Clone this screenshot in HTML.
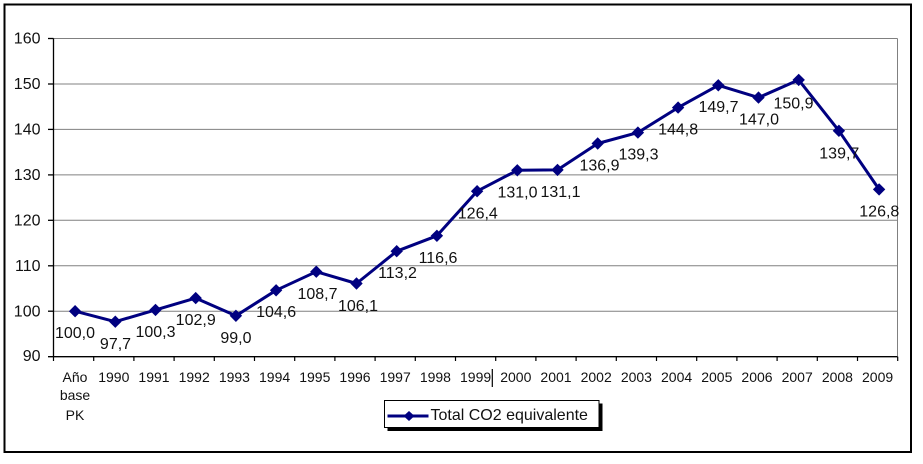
<!DOCTYPE html>
<html>
<head>
<meta charset="utf-8">
<style>
  html,body{margin:0;padding:0;background:#fff;}
  svg{display:block;}
  text{font-family:"Liberation Sans",Arial,sans-serif;fill:#111;}
</style>
</head>
<body>
<svg width="923" height="464" viewBox="0 0 923 464" xmlns="http://www.w3.org/2000/svg">
  <rect x="0" y="0" width="923" height="464" fill="#fff"/>
  <!-- outer border -->
  <rect x="4.5" y="4.5" width="906.5" height="447.5" fill="none" stroke="#000" stroke-width="2"/>

  <!-- gridlines -->
  <g stroke="#808080" stroke-width="1">
    <line x1="53" y1="38.5" x2="897.5" y2="38.5"/>
    <line x1="53" y1="84" x2="897.5" y2="84"/>
    <line x1="53" y1="129.4" x2="897.5" y2="129.4"/>
    <line x1="53" y1="174.9" x2="897.5" y2="174.9"/>
    <line x1="53" y1="220.3" x2="897.5" y2="220.3"/>
    <line x1="53" y1="265.8" x2="897.5" y2="265.8"/>
    <line x1="53" y1="311.2" x2="897.5" y2="311.2"/>
    <line x1="897.5" y1="38.5" x2="897.5" y2="356.7"/>
  </g>

  <!-- axes -->
  <g stroke="#000" stroke-width="1.3">
    <line x1="53.5" y1="38.5" x2="53.5" y2="356.7"/>
    <line x1="48" y1="356.7" x2="897.5" y2="356.7"/>
    <line x1="48" y1="38.5" x2="53.5" y2="38.5"/>
    <line x1="48" y1="84" x2="53.5" y2="84"/>
    <line x1="48" y1="129.4" x2="53.5" y2="129.4"/>
    <line x1="48" y1="174.9" x2="53.5" y2="174.9"/>
    <line x1="48" y1="220.3" x2="53.5" y2="220.3"/>
    <line x1="48" y1="265.8" x2="53.5" y2="265.8"/>
    <line x1="48" y1="311.2" x2="53.5" y2="311.2"/>
  </g>
  <g stroke="#000" stroke-width="1.2">
    <line x1="53.5" y1="356.7" x2="53.5" y2="361"/>
    <line x1="93.7" y1="356.7" x2="93.7" y2="361"/>
    <line x1="133.9" y1="356.7" x2="133.9" y2="361"/>
    <line x1="174.1" y1="356.7" x2="174.1" y2="361"/>
    <line x1="214.3" y1="356.7" x2="214.3" y2="361"/>
    <line x1="254.5" y1="356.7" x2="254.5" y2="361"/>
    <line x1="294.7" y1="356.7" x2="294.7" y2="361"/>
    <line x1="334.9" y1="356.7" x2="334.9" y2="361"/>
    <line x1="375.1" y1="356.7" x2="375.1" y2="361"/>
    <line x1="415.3" y1="356.7" x2="415.3" y2="361"/>
    <line x1="455.5" y1="356.7" x2="455.5" y2="361"/>
    <line x1="495.7" y1="356.7" x2="495.7" y2="361"/>
    <line x1="535.9" y1="356.7" x2="535.9" y2="361"/>
    <line x1="576.1" y1="356.7" x2="576.1" y2="361"/>
    <line x1="616.3" y1="356.7" x2="616.3" y2="361"/>
    <line x1="656.5" y1="356.7" x2="656.5" y2="361"/>
    <line x1="696.7" y1="356.7" x2="696.7" y2="361"/>
    <line x1="736.9" y1="356.7" x2="736.9" y2="361"/>
    <line x1="777.1" y1="356.7" x2="777.1" y2="361"/>
    <line x1="817.3" y1="356.7" x2="817.3" y2="361"/>
    <line x1="857.5" y1="356.7" x2="857.5" y2="361"/>
    <line x1="897.7" y1="356.7" x2="897.7" y2="361"/>
    <!-- cursor-like artifact -->
    <line x1="492.3" y1="369" x2="492.3" y2="387"/>
  </g>

  <!-- y labels -->
  <g font-size="16" text-anchor="end">
    <text x="40.5" y="43.5">160</text>
    <text x="40.5" y="89">150</text>
    <text x="40.5" y="134.5">140</text>
    <text x="40.5" y="180">130</text>
    <text x="40.5" y="225.5">120</text>
    <text x="40.5" y="271">110</text>
    <text x="40.5" y="316.5">100</text>
    <text x="40.5" y="361">90</text>
  </g>

  <!-- x labels -->
  <g font-size="14" text-anchor="middle">
    <text x="75" y="382">Año</text>
    <text x="75" y="400">base</text>
    <text x="75" y="420">PK</text>
    <text x="113.8" y="382">1990</text>
    <text x="154" y="382">1991</text>
    <text x="194.2" y="382">1992</text>
    <text x="234.4" y="382">1993</text>
    <text x="274.6" y="382">1994</text>
    <text x="314.8" y="382">1995</text>
    <text x="355" y="382">1996</text>
    <text x="395.2" y="382">1997</text>
    <text x="435.4" y="382">1998</text>
    <text x="475.6" y="382">1999</text>
    <text x="515.8" y="382">2000</text>
    <text x="556" y="382">2001</text>
    <text x="596.2" y="382">2002</text>
    <text x="636.4" y="382">2003</text>
    <text x="676.6" y="382">2004</text>
    <text x="716.8" y="382">2005</text>
    <text x="757" y="382">2006</text>
    <text x="797.2" y="382">2007</text>
    <text x="837.4" y="382">2008</text>
    <text x="877.6" y="382">2009</text>
  </g>

  <!-- series line -->
  <polyline fill="none" stroke="#000080" stroke-width="3" stroke-linejoin="round"
    points="75.1,311.2 115.3,321.7 155.5,309.9 195.7,298.1 235.9,315.8 276.1,290.3 316.3,271.7 356.5,283.5 396.7,251.2 436.9,235.8 477.1,191.2 517.3,170.3 557.5,169.9 597.7,143.5 637.9,132.6 678.1,107.6 718.3,85.3 758.5,97.6 798.7,79.9 838.9,130.8 879.1,189.4"/>

  <!-- markers -->
  <g fill="#000080">
    <path d="M75.1,305 l6.2,6.2 l-6.2,6.2 l-6.2,-6.2z"/>
    <path d="M115.3,315.5 l6.2,6.2 l-6.2,6.2 l-6.2,-6.2z"/>
    <path d="M155.5,303.7 l6.2,6.2 l-6.2,6.2 l-6.2,-6.2z"/>
    <path d="M195.7,291.9 l6.2,6.2 l-6.2,6.2 l-6.2,-6.2z"/>
    <path d="M235.9,309.6 l6.2,6.2 l-6.2,6.2 l-6.2,-6.2z"/>
    <path d="M276.1,284.1 l6.2,6.2 l-6.2,6.2 l-6.2,-6.2z"/>
    <path d="M316.3,265.5 l6.2,6.2 l-6.2,6.2 l-6.2,-6.2z"/>
    <path d="M356.5,277.3 l6.2,6.2 l-6.2,6.2 l-6.2,-6.2z"/>
    <path d="M396.7,245 l6.2,6.2 l-6.2,6.2 l-6.2,-6.2z"/>
    <path d="M436.9,229.6 l6.2,6.2 l-6.2,6.2 l-6.2,-6.2z"/>
    <path d="M477.1,185 l6.2,6.2 l-6.2,6.2 l-6.2,-6.2z"/>
    <path d="M517.3,164.1 l6.2,6.2 l-6.2,6.2 l-6.2,-6.2z"/>
    <path d="M557.5,163.7 l6.2,6.2 l-6.2,6.2 l-6.2,-6.2z"/>
    <path d="M597.7,137.3 l6.2,6.2 l-6.2,6.2 l-6.2,-6.2z"/>
    <path d="M637.9,126.4 l6.2,6.2 l-6.2,6.2 l-6.2,-6.2z"/>
    <path d="M678.1,101.4 l6.2,6.2 l-6.2,6.2 l-6.2,-6.2z"/>
    <path d="M718.3,79.1 l6.2,6.2 l-6.2,6.2 l-6.2,-6.2z"/>
    <path d="M758.5,91.4 l6.2,6.2 l-6.2,6.2 l-6.2,-6.2z"/>
    <path d="M798.7,73.7 l6.2,6.2 l-6.2,6.2 l-6.2,-6.2z"/>
    <path d="M838.9,124.6 l6.2,6.2 l-6.2,6.2 l-6.2,-6.2z"/>
    <path d="M879.1,183.2 l6.2,6.2 l-6.2,6.2 l-6.2,-6.2z"/>
  </g>

  <!-- data labels -->
  <g font-size="16" text-anchor="middle">
    <text x="75" y="338">100,0</text>
    <text x="115.5" y="349">97,7</text>
    <text x="155.5" y="337">100,3</text>
    <text x="195.7" y="325">102,9</text>
    <text x="235.9" y="343">99,0</text>
    <text x="276.1" y="317">104,6</text>
    <text x="317.5" y="299">108,7</text>
    <text x="358" y="311">106,1</text>
    <text x="397.5" y="278">113,2</text>
    <text x="438" y="263">116,6</text>
    <text x="477.8" y="218.3">126,4</text>
    <text x="517.5" y="197.7">131,0</text>
    <text x="560.5" y="197">131,1</text>
    <text x="599.5" y="170.5">136,9</text>
    <text x="638.5" y="159.5">139,3</text>
    <text x="678.1" y="134.5">144,8</text>
    <text x="718.5" y="112">149,7</text>
    <text x="759" y="124.5">147,0</text>
    <text x="793.5" y="108.5">150,9</text>
    <text x="839.3" y="158.7">139,7</text>
    <text x="879.3" y="216.7">126,8</text>
  </g>

  <!-- legend -->
  <rect x="387.5" y="403.5" width="215" height="27.5" fill="#000"/>
  <rect x="384.5" y="400.5" width="214.5" height="27" fill="#fff" stroke="#000" stroke-width="1"/>
  <line x1="387.5" y1="416" x2="428.5" y2="416" stroke="#000080" stroke-width="3"/>
  <path d="M409,411 l5.5,5 l-5.5,5 l-5.5,-5z" fill="#000080"/>
  <text x="430.5" y="420" font-size="16">Total CO2 equivalente</text>
</svg>
</body>
</html>
